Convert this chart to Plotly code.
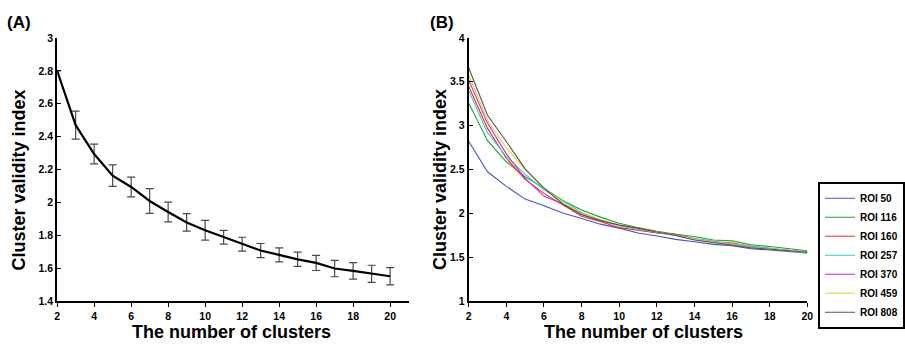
import plotly.graph_objects as go

W, H = 905, 349

# ---------------- Data ----------------
clusters = list(range(2, 21))

# Panel A: mean cluster validity index with error bars
mean_cvi = [2.80, 2.47, 2.295, 2.164, 2.095, 2.01, 1.943, 1.88, 1.832, 1.79,
            1.748, 1.709, 1.683, 1.656, 1.634, 1.60, 1.586, 1.568, 1.553]
err_cvi = [0.0, 0.085, 0.06, 0.065, 0.06, 0.075, 0.06, 0.053, 0.06, 0.042,
           0.042, 0.043, 0.042, 0.043, 0.046, 0.05, 0.05, 0.052, 0.052]

# Panel B: per-ROI curves
roi_names = ["ROI 50", "ROI 116", "ROI 160", "ROI 257", "ROI 370", "ROI 459", "ROI 808"]
roi_50 = [2.824, 2.476, 2.31, 2.165, 2.09, 2.007, 1.945, 1.88, 1.835, 1.78,
          1.745, 1.707, 1.68, 1.65, 1.634, 1.60, 1.586, 1.57, 1.553]
roi_116 = [3.26, 2.83, 2.59, 2.42, 2.29, 2.15, 2.04, 1.96, 1.89, 1.84,
           1.80, 1.765, 1.74, 1.70, 1.69, 1.645, 1.625, 1.60, 1.578]
roi_160 = [3.45, 2.97, 2.63, 2.39, 2.23, 2.10, 1.97, 1.91, 1.84, 1.81,
           1.78, 1.76, 1.71, 1.68, 1.665, 1.625, 1.60, 1.58, 1.56]
roi_257 = [3.40, 2.92, 2.65, 2.45, 2.27, 2.15, 2.01, 1.93, 1.86, 1.82,
           1.79, 1.75, 1.72, 1.69, 1.655, 1.635, 1.61, 1.58, 1.55]
roi_370 = [3.52, 3.03, 2.68, 2.40, 2.20, 2.11, 1.99, 1.92, 1.87, 1.83,
           1.785, 1.765, 1.71, 1.68, 1.65, 1.62, 1.60, 1.58, 1.565]
roi_459 = [3.58, 3.06, 2.75, 2.50, 2.29, 2.13, 2.00, 1.93, 1.87, 1.83,
           1.79, 1.75, 1.71, 1.68, 1.65, 1.62, 1.60, 1.585, 1.565]
roi_808 = [3.66, 3.12, 2.82, 2.51, 2.29, 2.11, 1.99, 1.92, 1.87, 1.835,
           1.79, 1.75, 1.70, 1.67, 1.645, 1.61, 1.595, 1.575, 1.56]
roi_series = [roi_50, roi_116, roi_160, roi_257, roi_370, roi_459, roi_808]

x_ticks = [2, 4, 6, 8, 10, 12, 14, 16, 18, 20]
x_ticklabels = ["2", "4", "6", "8", "10", "12", "14", "16", "18", "20"]
yA_ticks = [1.4, 1.6, 1.8, 2.0, 2.2, 2.4, 2.6, 2.8, 3.0]
yA_ticklabels = ["1.4", "1.6", "1.8", "2", "2.2", "2.4", "2.6", "2.8", "3"]
yB_ticks = [1, 1.5, 2, 2.5, 3, 3.5, 4]
yB_ticklabels = ["1", "1.5", "2", "2.5", "3", "3.5", "4"]

# ---------------- Styles ----------------
FONT = "Liberation Sans, Arial, sans-serif"
roi_colors = ["#4455cc", "#22a032", "#ee2a2a", "#3cc8c8", "#cc30cc", "#d8d830", "#555555"]

fig = go.Figure()

fig.add_trace(go.Scatter(
    x=clusters, y=mean_cvi, mode="lines",
    line=dict(color="black", width=2.2),
    error_y=dict(type="data", array=err_cvi, visible=True,
                 color="#4a4a4a", thickness=1.2, width=4),
    showlegend=False, xaxis="x", yaxis="y",
))

for name, vals, col in zip(roi_names, roi_series, roi_colors):
    fig.add_trace(go.Scatter(
        x=clusters, y=vals, mode="lines", name=name,
        line=dict(color=col, width=1.1),
        xaxis="x2", yaxis="y2",
    ))

ydom = [1 - 306 / H, 1 - 33 / H]

axis_common = dict(
    showline=True, linecolor="black", showgrid=False, zeroline=False,
    tickfont=dict(family=FONT, size=10.5, color="black", weight="bold"),
    mirror=False,
)

fig.update_layout(
    width=W, height=H,
    margin=dict(l=0, r=0, t=0, b=0),
    paper_bgcolor="white", plot_bgcolor="white",
    font=dict(family=FONT, color="black"),
    xaxis=dict(domain=[55 / W, 412 / W], range=[2, 21], anchor="y",
               tickvals=x_ticks, ticktext=x_ticklabels,
               ticks="outside", ticklen=4, tickcolor="black", linewidth=1.5,
               **axis_common),
    yaxis=dict(domain=ydom, range=[1.4, 3.0], anchor="x",
               tickvals=yA_ticks, ticktext=yA_ticklabels,
               ticks="inside", ticklen=4, tickcolor="black", linewidth=2,
               **axis_common),
    xaxis2=dict(domain=[473 / W, 817 / W], range=[2, 20], anchor="y2",
                tickvals=x_ticks, ticktext=x_ticklabels,
                ticks="outside", ticklen=4, tickcolor="black", linewidth=1.5,
                **axis_common),
    yaxis2=dict(domain=ydom, range=[1, 4], anchor="x2",
                tickvals=yB_ticks, ticktext=yB_ticklabels,
                ticks="inside", ticklen=4, tickcolor="black", linewidth=2,
                **axis_common),
    legend=dict(
        x=828 / W, y=1 - 182 / H, xanchor="left", yanchor="top",
        bgcolor="white", bordercolor="black", borderwidth=2,
        font=dict(family=FONT, size=10, color="black", weight="bold"),
        tracegroupgap=0, itemwidth=30,
    ),
)

title_font = dict(family=FONT, size=18, color="black", weight="bold")
panel_font = dict(family=FONT, size=17, color="black", weight="bold")
ann = [
    dict(text="(A)", x=2 / W, y=1 - 17 / H, xanchor="left", yanchor="middle",
         font=panel_font),
    dict(text="(B)", x=432 / W, y=1 - 17 / H, xanchor="left", yanchor="middle",
         font=panel_font),
    dict(text="Cluster validity index", x=16 / W, y=1 - 180 / H, textangle=-90,
         xanchor="center", yanchor="middle", font=title_font),
    dict(text="Cluster validity index", x=444 / W, y=1 - 180 / H, textangle=-90,
         xanchor="center", yanchor="middle", font=title_font),
    dict(text="The number of clusters", x=232 / W, y=1 - 338 / H,
         xanchor="center", yanchor="middle", font=title_font),
    dict(text="The number of clusters", x=651 / W, y=1 - 338 / H,
         xanchor="center", yanchor="middle", font=title_font),
]
for a in ann:
    a.update(xref="paper", yref="paper", showarrow=False)
fig.update_layout(annotations=ann)

fig.write_html("out.html")
